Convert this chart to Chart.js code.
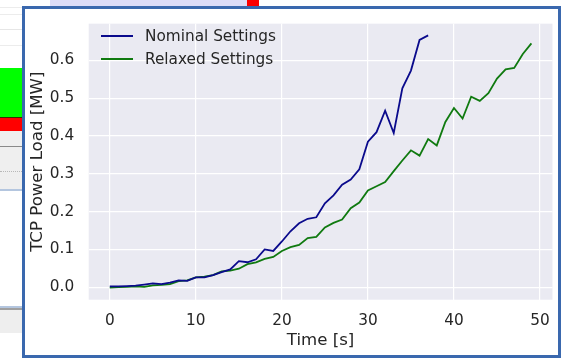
<!DOCTYPE html>
<html>
<head>
<meta charset="utf-8">
<script src="https://cdn.jsdelivr.net/npm/chart.js@4.4.1/dist/chart.umd.min.js"></script>
<style>
  html, body { margin: 0; padding: 0; background: #fff; }
  body { width: 562px; height: 359px; position: relative; overflow: hidden; font-family: "DejaVu Sans", sans-serif; }
  .bg { position: absolute; }
  #frame { position: absolute; left: 22px; top: 6px; width: 533px; height: 346px; border: 3px solid #3a68ae; background: #fff; }
  #myChart { position: absolute; left: 0; top: 0; }
  #legend { position: absolute; left: 101px; top: 25px; color: #262626; font-size: 15.3px; line-height: 22.6px; }
  #legend .row { position: relative; height: 22.6px; white-space: nowrap; }
  #legend .swatch { position: absolute; left: 0; top: 10px; width: 32px; height: 0; border-top: 2px solid; }
  #legend .txt { position: absolute; left: 44px; top: 0; }
</style>
</head>
<body>
<!-- bits of the window behind the plot -->
<div class="bg" style="left:50px;top:0;width:197px;height:6px;background:#dcdcf7"></div>
<div class="bg" style="left:247px;top:0;width:12px;height:6px;background:#ff0000"></div>
<div class="bg" style="left:0;top:7px;width:22px;height:1px;background:#ececec"></div>
<div class="bg" style="left:0;top:14px;width:22px;height:1px;background:#ececec"></div>
<div class="bg" style="left:0;top:29px;width:22px;height:1px;background:#e6e6e6"></div>
<div class="bg" style="left:0;top:45px;width:22px;height:1px;background:#ececec"></div>
<div class="bg" style="left:0;top:68px;width:22px;height:50px;background:#00ff00"></div>
<div class="bg" style="left:0;top:117px;width:22px;height:1px;background:#3a2a00"></div>
<div class="bg" style="left:0;top:118px;width:22px;height:13px;background:#ff0000"></div>
<div class="bg" style="left:0;top:131px;width:22px;height:58px;background:#efefef"></div>
<div class="bg" style="left:0;top:146px;width:22px;height:1px;background:#8a8a8a"></div>
<div class="bg" style="left:0;top:171px;width:22px;height:1px;border-top:1px dotted #b8b8b8"></div>
<div class="bg" style="left:0;top:189px;width:22px;height:2px;background:#b4c6df"></div>
<div class="bg" style="left:0;top:306px;width:22px;height:2px;background:#b4c6df"></div>
<div class="bg" style="left:0;top:308px;width:22px;height:2px;background:#a0a0a0"></div>
<div class="bg" style="left:0;top:310px;width:22px;height:23px;background:#eeeeee"></div>

<div id="frame"></div>
<canvas id="myChart" width="562" height="359"></canvas>
<div id="legend"></div>

<script>
const xTicks = [0, 10, 20, 30, 40, 50];
const yTicks = [0.0, 0.1, 0.2, 0.3, 0.4, 0.5, 0.6];

const timeNominal = [0,1,2,3,4,5,6,7,8,9,10,11,12,13,14,15,16,17,18,19,20,21,22,23,24,25,26,27,28,29,30,31,32,33,34,35,36,37];
const loadNominal = [0.002,0.002,0.003,0.004,0.007,0.010,0.008,0.012,0.018,0.017,
  0.026,0.026,0.032,0.040,0.047,0.069,0.066,0.074,0.100,0.096,
  0.121,0.148,0.169,0.181,0.185,0.222,0.243,0.271,0.285,0.312,
  0.385,0.410,0.467,0.408,0.526,0.573,0.654,0.666];

const timeRelaxed = [0,1,2,3,4,5,6,7,8,9,10,11,12,13,14,15,16,17,18,19,20,21,22,23,24,25,26,27,28,29,30,31,32,33,34,35,36,37,38,39,40,41,42,43,44,45,46,47,48,49];
const loadRelaxed = [-0.001,0.000,0.001,0.002,0.001,0.005,0.006,0.008,0.016,0.018,
  0.026,0.028,0.032,0.042,0.044,0.049,0.061,0.066,0.075,0.080,
  0.096,0.106,0.112,0.130,0.133,0.158,0.170,0.179,0.209,0.224,
  0.256,0.267,0.278,0.307,0.335,0.362,0.348,0.392,0.375,0.437,
  0.474,0.446,0.504,0.493,0.513,0.552,0.576,0.580,0.617,0.645];

const seriesNames = ["Nominal Settings", "Relaxed Settings"];
const seriesColors = ["#0a0a8c", "#107a10"];

const toPoints = (xs, ys) => xs.map((x, i) => ({x: x, y: ys[i]}));

// grey plot background like seaborn darkgrid
const plotBackground = {
  id: 'plotBackground',
  beforeDraw(chart) {
    const {ctx, chartArea} = chart;
    ctx.save();
    ctx.fillStyle = '#eaeaf2';
    ctx.fillRect(chartArea.left, chartArea.top, chartArea.right - chartArea.left, chartArea.bottom - chartArea.top);
    ctx.restore();
  }
};

const tickFont = {family: "DejaVu Sans", size: 15.3};
const labelFont = {family: "DejaVu Sans", size: 16.6};
const textColor = '#262626';

const myChart = new Chart(document.getElementById('myChart'), {
  type: 'line',
  data: {
    datasets: [
      {
        label: seriesNames[0],
        data: toPoints(timeNominal, loadNominal),
        borderColor: seriesColors[0],
        borderWidth: 1.8,
        pointRadius: 0,
        tension: 0,
      },
      {
        label: seriesNames[1],
        data: toPoints(timeRelaxed, loadRelaxed),
        borderColor: seriesColors[1],
        borderWidth: 1.8,
        pointRadius: 0,
        tension: 0,
      },
    ],
  },
  options: {
    responsive: false,
    animation: false,
    layout: {padding: {left: 0, right: 9.3, top: 15.7, bottom: 0}},
    plugins: {
      legend: {display: false},
      tooltip: {enabled: false},
    },
    scales: {
      x: {
        type: 'linear',
        min: -2.45,
        max: 51.45,
        afterFit(scale) { scale.height = 59.3; },
        afterBuildTicks(scale) { scale.ticks = xTicks.map(v => ({value: v})); },
        grid: {color: '#ffffff', lineWidth: 1.2, drawTicks: false},
        border: {display: false},
        ticks: {color: textColor, font: tickFont, padding: 12, maxRotation: 0},
        title: {display: true, text: 'Time [s]', color: textColor, font: labelFont, padding: {top: 0, bottom: 8}},
      },
      y: {
        min: -0.033,
        max: 0.697,
        afterFit(scale) { scale.width = 88.7; },
        afterBuildTicks(scale) { scale.ticks = yTicks.map(v => ({value: v})); },
        grid: {color: '#ffffff', lineWidth: 1.2, drawTicks: false},
        border: {display: false},
        ticks: {color: textColor, font: tickFont, padding: 14.5, callback: v => v.toFixed(1)},
        title: {display: true, text: 'TCP Power Load [MW]', color: textColor, font: labelFont, padding: {top: 27.5, bottom: 0}},
      },
    },
  },
  plugins: [plotBackground],
});

// legend inside the plot, upper left
const legend = document.getElementById('legend');
seriesNames.forEach((name, i) => {
  const row = document.createElement('div');
  row.className = 'row';
  row.innerHTML = '<span class="swatch" style="border-color:' + seriesColors[i] + '"></span><span class="txt">' + name + '</span>';
  legend.appendChild(row);
});
</script>
</body>
</html>
